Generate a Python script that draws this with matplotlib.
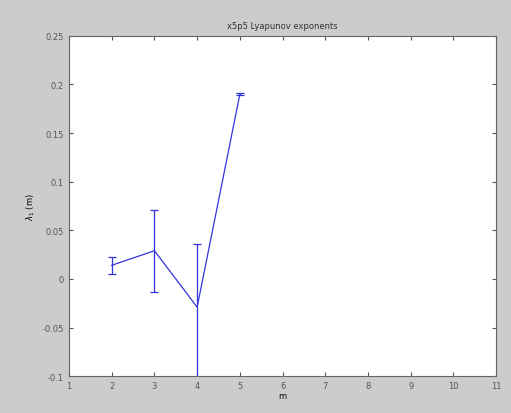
# Lyapunov exponent vs embedding dimension, MATLAB-style
import numpy as np
import matplotlib.pyplot as plt

# data
m = [2, 3, 4, 5]
lam = [0.014, 0.029, -0.029, 0.19]
err_lo = [0.009, 0.042, 0.075, 0.001]
err_hi = [0.009, 0.042, 0.065, 0.001]

xticks = [1, 2, 3, 4, 5, 6, 7, 8, 9, 10, 11]
yticks = [-0.1, -0.05, 0, 0.05, 0.1, 0.15, 0.2, 0.25]

my_dpi = 100
fig = plt.figure(figsize=(511/my_dpi, 414/my_dpi), dpi=my_dpi, facecolor='#cccccc')
ax = fig.add_axes([0.135, 0.089, 0.836, 0.822])

ax.errorbar(m, lam, yerr=[err_lo, err_hi], color='#3333dd', lw=0.9,
            elinewidth=0.9, capsize=3, capthick=0.9)

ax.set_xlim(1, 11)
ax.set_ylim(-0.1, 0.25)
ax.set_xticks(xticks)
ax.set_yticks(yticks)
ax.set_yticklabels(['-0.1', '-0.05', '0', '0.05', '0.1', '0.15', '0.2', '0.25'])
ax.tick_params(direction='in', top=True, right=True, labelsize=6, length=3, colors='#555555')
for s in ax.spines.values():
    s.set_color('#666666')

ax.set_title('x5p5 Lyapunov exponents', fontsize=6, color='#333333')
ax.set_xlabel('m', fontsize=6, labelpad=1)
ax.set_ylabel(r'$\lambda_1$ (m)', fontsize=6)

plt.savefig('out.png', dpi=my_dpi, facecolor=fig.get_facecolor())
